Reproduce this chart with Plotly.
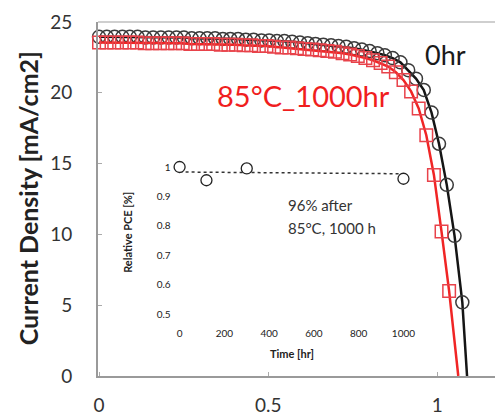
import plotly.graph_objects as go

# ---- main J-V data ----
red_V = [0.000, 0.0225, 0.045, 0.0675, 0.090, 0.1125, 0.135, 0.1575, 0.180, 0.2025,
         0.225, 0.2475, 0.270, 0.2925, 0.315, 0.3375, 0.360, 0.3825, 0.405, 0.4275,
         0.450, 0.4725, 0.495, 0.5175, 0.540, 0.5625, 0.585, 0.6075, 0.630, 0.6525,
         0.675, 0.6975, 0.720, 0.7425, 0.765, 0.7875, 0.810, 0.8325, 0.855, 0.8775,
         0.900, 0.9225, 0.945, 0.9675, 0.990, 1.0125, 1.035]
red_J = [23.55, 23.55, 23.55, 23.55, 23.55, 23.55, 23.5, 23.5, 23.5, 23.5,
         23.5, 23.5, 23.45, 23.45, 23.45, 23.45, 23.4, 23.4, 23.4, 23.35,
         23.35, 23.3, 23.3, 23.25, 23.2, 23.2, 23.15, 23.1, 23.05, 23.0,
         22.95, 22.9, 22.8, 22.7, 22.6, 22.45, 22.3, 22.1, 21.85, 21.45,
         20.9, 20.1, 18.9, 17.0, 14.2, 10.2, 6.0]
red_Voc = 1.062

black_V = [0.000, 0.023, 0.046, 0.069, 0.091, 0.114, 0.137, 0.160, 0.183, 0.206,
           0.229, 0.251, 0.274, 0.297, 0.320, 0.343, 0.366, 0.388, 0.411, 0.434,
           0.457, 0.480, 0.503, 0.526, 0.548, 0.571, 0.594, 0.617, 0.640, 0.663,
           0.686, 0.708, 0.731, 0.754, 0.777, 0.800, 0.823, 0.845, 0.868, 0.891,
           0.914, 0.937, 0.960, 0.983, 1.005, 1.028, 1.051, 1.074]
black_J = [23.95, 23.95, 23.95, 23.95, 23.95, 23.95, 23.9, 23.9, 23.9, 23.9,
           23.9, 23.9, 23.85, 23.85, 23.85, 23.85, 23.8, 23.8, 23.8, 23.75,
           23.75, 23.7, 23.7, 23.65, 23.65, 23.6, 23.55, 23.5, 23.45, 23.4,
           23.35, 23.3, 23.25, 23.15, 23.05, 22.95, 22.8, 22.65, 22.45, 22.15,
           21.6, 21.0, 20.2, 18.6, 16.4, 13.5, 9.9, 5.2]
black_Voc = 1.088

x_ticks = [0, 0.5, 1]
x_tick_text = ["0", "0.5", "1"]
y_ticks = [0, 5, 10, 15, 20, 25]

# ---- inset data ----
inset_time = [0, 120, 300, 1000]
inset_pce = [1.0, 0.955, 0.995, 0.96]
trend_time = [0, 1000]
trend_pce = [0.983, 0.977]
inset_x_ticks = [0, 200, 400, 600, 800, 1000]
inset_y_ticks = [0.5, 0.6, 0.7, 0.8, 0.9, 1.0]
inset_y_text = ["0.5", "0.6", "0.7", "0.8", "0.9", "1"]

FONT = "Lato"
W, H = 497, 418
L, T, R, B = 98, 22, 0, 42
PW, PH = W - L - R, H - T - B

def px(xp):
    return (xp - L) / PW

def py(yp):
    return (H - B - yp) / PH

fig = go.Figure()

# black 0hr
fig.add_trace(go.Scatter(x=black_V + [black_Voc], y=black_J + [0], mode="lines",
                         line=dict(color="#151515", width=2.5), showlegend=False))
fig.add_trace(go.Scatter(x=black_V, y=black_J, mode="markers", cliponaxis=False,
                         marker=dict(symbol="circle-open", size=13, color="#3a3a3a",
                                     line=dict(color="#3a3a3a", width=1.5)),
                         showlegend=False))
# red 85C 1000hr
fig.add_trace(go.Scatter(x=red_V + [red_Voc], y=red_J + [0], mode="lines",
                         line=dict(color="#f02525", width=2.5), showlegend=False))
fig.add_trace(go.Scatter(x=red_V, y=red_J, mode="markers", cliponaxis=False,
                         marker=dict(symbol="square-open", size=12.5, color="#e8424a",
                                     line=dict(color="#e8424a", width=1.5)),
                         showlegend=False))

# inset
fig.add_trace(go.Scatter(x=trend_time, y=trend_pce, mode="lines", xaxis="x2", yaxis="y2",
                         line=dict(color="#333", width=1.5, dash="dot"), showlegend=False))
fig.add_trace(go.Scatter(x=inset_time, y=inset_pce, mode="markers", xaxis="x2", yaxis="y2",
                         cliponaxis=False,
                         marker=dict(symbol="circle", size=11, color="white",
                                     line=dict(color="#222", width=1.3)),
                         showlegend=False))

# inset domain in pixels: x 172..415, y 160..320
ix0, ix1 = 172, 415
iy_top, iy_bot = 160, 320
x_per_hr = 0.225
y_per_unit = 294.0
x2_range = [0 - (180 - ix0) / x_per_hr, 1000 + (ix1 - 405) / x_per_hr]
y2_range = [0.5 - (iy_bot - 314) / y_per_unit, 1.0 + (167 - iy_top) / y_per_unit]

fig.update_layout(
    width=W, height=H,
    margin=dict(l=L, r=R, t=T, b=B),
    paper_bgcolor="white", plot_bgcolor="white",
    font=dict(family=FONT, color="#333"),
    xaxis=dict(range=[-0.003, (PW - 1) / 340.0], domain=[0, 1],
               tickvals=x_ticks, ticktext=x_tick_text,
               showgrid=False, zeroline=False, showline=True, linecolor="#9a9a9a", linewidth=2,
               ticks="inside", ticklen=4, tickcolor="#aaa",
               tickfont=dict(size=19, color="#333", family=FONT),
               ticklabelstandoff=11),
    yaxis=dict(range=[0, 25], domain=[0, 1], tickvals=y_ticks,
               showgrid=False, zeroline=False, showline=True, linecolor="#9a9a9a", linewidth=2,
               ticks="inside", ticklen=4, tickcolor="#aaa",
               tickfont=dict(size=19, color="#333", family=FONT),
               ticklabelstandoff=20),
    xaxis2=dict(domain=[px(ix0), px(ix1)], anchor="y2", range=x2_range,
                tickvals=inset_x_ticks, showgrid=False, zeroline=False, showline=False,
                ticks="", tickfont=dict(size=10, color="#222", family=FONT),
                ticklabelstandoff=6),
    yaxis2=dict(domain=[py(iy_bot), py(iy_top)], anchor="x2", range=y2_range,
                tickvals=inset_y_ticks, ticktext=inset_y_text,
                showgrid=False, zeroline=False, showline=False,
                ticks="", tickfont=dict(size=10, color="#222", family=FONT)),
    shapes=[dict(type="line", xref="paper", yref="paper", x0=0, x1=1, y0=1, y1=1,
                 line=dict(color="#cfcfcf", width=2))],
)

ann = [
    dict(text="Current Density [mA/cm2]", x=px(28), y=py(198), textangle=-90,
         font=dict(size=25, color="#222", family=FONT, weight="bold")),
    dict(text="0hr", x=px(447), y=py(55), font=dict(size=27, color="#1a1a1a", family=FONT)),
    dict(text="85°C_1000hr", x=px(305), y=py(95), font=dict(size=29, color="#f01e1e", family=FONT)),
    dict(text="96% after", x=px(287), y=py(205), xanchor="left",
         font=dict(size=15, color="#333", family=FONT)),
    dict(text="85°C, 1000 h", x=px(287), y=py(228), xanchor="left",
         font=dict(size=15, color="#333", family=FONT)),
    dict(text="Time [hr]", x=px(293), y=py(353),
         font=dict(size=11, color="#222", family=FONT, weight="bold")),
    dict(text="Relative PCE [%]", x=px(127), y=py(232), textangle=-90,
         font=dict(size=11, color="#222", family=FONT, weight="bold")),
]
for a in ann:
    a.setdefault("xanchor", "center")
    a.update(xref="paper", yref="paper", yanchor="middle", showarrow=False)
fig.update_layout(annotations=ann)

fig.write_html("out.html")
